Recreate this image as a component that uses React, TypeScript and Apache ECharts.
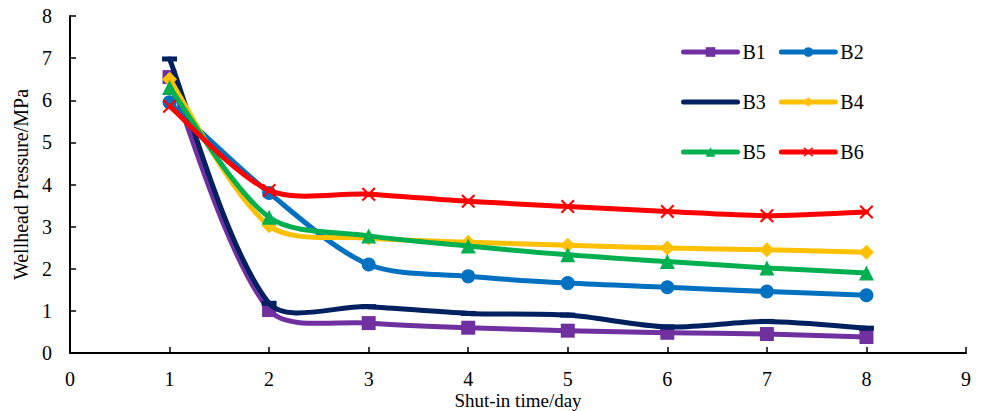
import React, { useEffect, useRef } from "react";
import * as echarts from "echarts";

const days = [1, 2, 3, 4, 5, 6, 7, 8];
const B1 = [6.55, 1.02, 0.71, 0.6, 0.53, 0.48, 0.45, 0.38];
const B2 = [5.95, 3.8, 2.1, 1.82, 1.66, 1.56, 1.46, 1.37];
const B3 = [6.98, 1.18, 1.1, 0.94, 0.9, 0.62, 0.75, 0.59];
const B4 = [6.5, 3.02, 2.73, 2.63, 2.56, 2.49, 2.45, 2.39];
const B5 = [6.3, 3.22, 2.78, 2.54, 2.33, 2.17, 2.02, 1.9];
const B6 = [5.86, 3.86, 3.77, 3.6, 3.48, 3.36, 3.26, 3.35];
const seriesNames = ["B1", "B2", "B3", "B4", "B5", "B6"];
const seriesValues = [B1, B2, B3, B4, B5, B6];
const colors = ["#7030A0", "#0070C0", "#002060", "#FFC000", "#00B050", "#FF0000"];

const FONT = "Liberation Serif";
const FS = 20;
const LW = 5;
const SMOOTH = 0.3;
const CROSS =
  "path://M0,1.5L1.5,0L7,5.5L12.5,0L14,1.5L8.5,7L14,12.5L12.5,14L7,8.5L1.5,14L0,12.5L5.5,7Z";
const symbols: any[] = ["rect", "circle", "rect", "diamond", "triangle", CROSS];
const symbolSizes: any[] = [14, 14, [15, 5], 15, 15, 14];

type P = [number, number];

function controls(pts: P[], i: number): { cin: P; cout: P } {
  const p = pts[i];
  const prev = pts[i - 1];
  const next = pts[i + 1];
  if (!prev && next) {
    return { cin: p, cout: [p[0] + (next[0] - p[0]) * SMOOTH * 0.5, p[1] + (next[1] - p[1]) * SMOOTH * 0.5] };
  }
  if (prev && !next) {
    return { cin: [p[0] - (p[0] - prev[0]) * SMOOTH * 0.5, p[1] - (p[1] - prev[1]) * SMOOTH * 0.5], cout: p };
  }
  const vx = next[0] - prev[0];
  const vy = next[1] - prev[1];
  const dp = Math.hypot(p[0] - prev[0], p[1] - prev[1]);
  const dn = Math.hypot(next[0] - p[0], next[1] - p[1]);
  const sum = dp + dn || 1;
  return {
    cin: [p[0] - vx * SMOOTH * (dp / sum), p[1] - vy * SMOOTH * (dp / sum)],
    cout: [p[0] + vx * SMOOTH * (dn / sum), p[1] + vy * SMOOTH * (dn / sum)],
  };
}

export default function App() {
  const ref = useRef<HTMLDivElement>(null);
  useEffect(() => {
    if (!ref.current) return;
    const chart = echarts.init(ref.current, undefined, { renderer: "svg" });
    const curveSeries = seriesNames.map((name, i) => ({
      name: name + " curve",
      type: "custom",
      z: 2 + i * 2,
      silent: true,
      data: days.slice(0, -1).map((d, j) => [d, seriesValues[i][j]]),
      renderItem: (params: any, api: any) => {
        const j = params.dataIndex;
        const pts: P[] = days.map((d, k) => api.coord([d, seriesValues[i][k]]));
        const a = controls(pts, j);
        const b = controls(pts, j + 1);
        return {
          type: "bezierCurve",
          shape: {
            x1: pts[j][0],
            y1: pts[j][1],
            cpx1: a.cout[0],
            cpy1: a.cout[1],
            cpx2: b.cin[0],
            cpy2: b.cin[1],
            x2: pts[j + 1][0],
            y2: pts[j + 1][1],
          },
          style: { stroke: colors[i], lineWidth: LW, fill: null, lineCap: "round", lineJoin: "round" },
        };
      },
    }));
    const pointSeries = seriesNames.map((name, i) => ({
      name,
      type: "line",
      z: 3 + i * 2,
      data: days.map((d, j) => [d, seriesValues[i][j]]),
      symbol: symbols[i],
      symbolSize: symbolSizes[i],
      showAllSymbol: true,
      lineStyle: { width: LW, color: colors[i], opacity: 0 },
      itemStyle: { color: colors[i] },
    }));
    const legendRow = (names: string[], top: number) => ({
      data: names.map((n) => (n === "B3" ? { name: n, itemStyle: { opacity: 0 } } : { name: n })),
      left: 681,
      top,
      padding: 0,
      orient: "horizontal",
      itemWidth: 54,
      itemHeight: 12,
      itemGap: 13,
      lineStyle: { width: LW, opacity: 1, cap: "round" },
      textStyle: { fontFamily: FONT, fontSize: FS, color: "#000" },
    });
    chart.setOption({
      animation: false,
      backgroundColor: "#fff",
      legend: [
        legendRow(["B1", "B2"], 42),
        legendRow(["B3", "B4"], 92),
        legendRow(["B5", "B6"], 142),
      ],
      grid: { left: 70, right: 15, top: 16, bottom: 58, containLabel: false, outerBoundsMode: "none" },
      xAxis: {
        type: "value",
        min: 0,
        max: 9,
        interval: 1,
        name: "Shut-in time/day",
        nameLocation: "middle",
        nameGap: 38,
        nameMoveOverlap: false,
        nameTextStyle: { fontFamily: FONT, fontSize: 19, color: "#000" },
        axisLine: { lineStyle: { color: "#000", width: 2 } },
        axisTick: { inside: true, length: 6, lineStyle: { color: "#000", width: 1.5 } },
        axisLabel: { fontFamily: FONT, fontSize: FS, color: "#000", margin: 16 },
        splitLine: { show: false },
      },
      yAxis: {
        type: "value",
        min: 0,
        max: 8,
        interval: 1,
        name: "Wellhead Pressure/MPa",
        nameLocation: "middle",
        nameGap: 39,
        nameMoveOverlap: false,
        nameTextStyle: { fontFamily: FONT, fontSize: FS, color: "#000" },
        axisLine: { show: true, lineStyle: { color: "#000", width: 2 } },
        axisTick: { show: true, inside: true, length: 6, lineStyle: { color: "#000", width: 1.5 } },
        axisLabel: { fontFamily: FONT, fontSize: FS, color: "#000", margin: 18 },
        splitLine: { show: false },
      },
      series: [...curveSeries, ...pointSeries],
    });
    return () => chart.dispose();
  }, []);
  return (
    <div
      ref={ref}
      style={{ position: "fixed", left: 0, top: 0, width: 981, height: 411 }}
    />
  );
}
